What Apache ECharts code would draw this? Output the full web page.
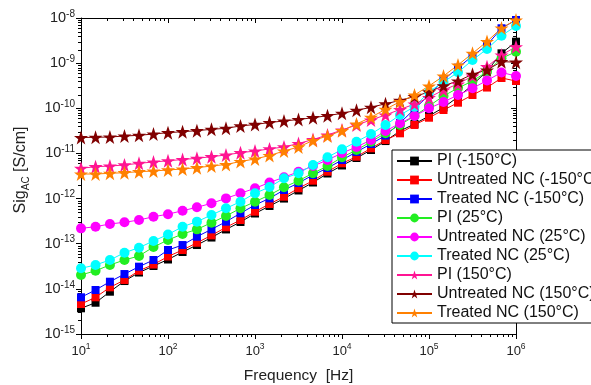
<!DOCTYPE html>
<html><head><meta charset="utf-8">
<script src="https://cdn.jsdelivr.net/npm/echarts@6/dist/echarts.min.js"></script>
<style>html,body{margin:0;padding:0;background:#fff}#c{width:591px;height:385px}</style>
</head><body><div id="c"></div><script>
// Frequency [Hz]
const freqs = [10, 14.7, 21.5, 31.6, 46.4, 68.1, 100, 147, 215, 316, 464, 681, 1000, 1468, 2154, 3162, 4642, 6813, 10000, 14678, 21544, 31623, 46416, 68129, 100000, 146780, 215440, 316230, 464160, 681290, 1000000];

const seriesNames = ["PI (-150°C)", "Untreated NC (-150°C)", "Treated NC (-150°C)", "PI (25°C)", "Untreated NC (25°C)", "Treated NC (25°C)", "PI (150°C)", "Untreated NC (150°C)", "Treated NC (150°C)"];

const piM150 = [3.71e-15, 4.93e-15, 8.65e-15, 1.49e-14, 2.30e-14, 3.21e-14, 4.47e-14, 6.55e-14, 9.35e-14, 1.37e-13, 2.07e-13, 3.03e-13, 4.67e-13, 6.84e-13, 1.00e-12, 1.51e-12, 2.27e-12, 3.59e-12, 5.41e-12, 7.92e-12, 1.19e-11, 1.88e-11, 3.14e-11, 4.49e-11, 6.75e-11, 1.04e-10, 1.78e-10, 3.28e-10, 6.70e-10, 1.65e-9, 2.99e-9];
const untreatedM150 = [4.61e-15, 6.50e-15, 1.08e-14, 1.57e-14, 2.52e-14, 3.46e-14, 5.21e-14, 7.26e-14, 1.05e-13, 1.53e-13, 2.31e-13, 3.35e-13, 5.12e-13, 7.59e-13, 1.10e-12, 1.69e-12, 2.49e-12, 3.94e-12, 6.04e-12, 8.47e-12, 1.30e-11, 1.98e-11, 2.79e-11, 4.27e-11, 6.18e-11, 9.16e-11, 1.33e-10, 1.97e-10, 2.88e-10, 4.69e-10, 4.02e-10];
const treatedM150 = [6.50e-15, 9.44e-15, 1.44e-14, 2.13e-14, 3.10e-14, 4.36e-14, 7.26e-14, 9.35e-14, 1.43e-13, 2.08e-13, 3.08e-13, 4.72e-13, 7.21e-13, 1.01e-12, 1.55e-12, 2.21e-12, 3.33e-12, 4.75e-12, 7.14e-12, 1.08e-11, 1.62e-11, 2.49e-11, 4.72e-11, 9.64e-11, 1.97e-10, 4.24e-10, 7.92e-10, 1.44e-9, 2.52e-9, 5.92e-9, 9.04e-9];
const pi25 = [2.03e-14, 2.52e-14, 3.38e-14, 4.36e-14, 5.35e-14, 8.45e-14, 1.21e-13, 1.64e-13, 2.08e-13, 2.92e-13, 4.11e-13, 6.08e-13, 8.53e-13, 1.20e-12, 1.78e-12, 2.49e-12, 3.63e-12, 5.26e-12, 8.20e-12, 1.19e-11, 1.82e-11, 2.79e-11, 4.27e-11, 6.75e-11, 1.12e-10, 1.87e-10, 2.81e-10, 4.02e-10, 6.46e-10, 1.28e-9, 1.79e-9];
const untreated25 = [2.19e-13, 2.38e-13, 2.74e-13, 2.98e-13, 3.35e-13, 3.96e-13, 4.51e-13, 5.38e-13, 6.41e-13, 7.85e-13, 1.01e-12, 1.31e-12, 1.69e-12, 2.27e-12, 2.96e-12, 3.94e-12, 5.26e-12, 7.14e-12, 1.02e-11, 1.39e-11, 1.98e-11, 3.14e-11, 4.65e-11, 6.75e-11, 1.00e-10, 1.38e-10, 1.97e-10, 2.77e-10, 4.13e-10, 6.21e-10, 5.19e-10];
const treated25 = [2.85e-14, 3.38e-14, 4.36e-14, 6.32e-14, 8.17e-14, 1.15e-13, 1.60e-13, 2.38e-13, 3.08e-13, 4.33e-13, 6.08e-13, 8.53e-13, 1.31e-12, 1.80e-12, 2.81e-12, 3.63e-12, 5.55e-12, 8.20e-12, 1.23e-11, 1.82e-11, 2.69e-11, 4.27e-11, 7.10e-11, 1.08e-10, 2.30e-10, 3.82e-10, 6.27e-10, 1.17e-9, 2.06e-9, 4.06e-9, 6.65e-9];
const pi150 = [4.69e-12, 5.08e-12, 5.26e-12, 5.55e-12, 6.04e-12, 6.46e-12, 6.87e-12, 7.33e-12, 7.80e-12, 8.47e-12, 9.23e-12, 1.04e-11, 1.13e-11, 1.26e-11, 1.39e-11, 1.66e-11, 2.03e-11, 2.56e-11, 3.30e-11, 4.27e-11, 5.50e-11, 7.10e-11, 9.40e-11, 1.24e-10, 1.73e-10, 2.54e-10, 3.45e-10, 5.19e-10, 8.34e-10, 1.51e-9, 2.31e-9];
const untreated150 = [2.25e-11, 2.28e-11, 2.31e-11, 2.43e-11, 2.52e-11, 2.69e-11, 2.88e-11, 3.03e-11, 3.19e-11, 3.42e-11, 3.60e-11, 4.06e-11, 4.38e-11, 4.84e-11, 5.23e-11, 5.64e-11, 6.18e-11, 6.85e-11, 7.74e-11, 9.02e-11, 1.05e-10, 1.26e-10, 1.49e-10, 1.82e-10, 2.30e-10, 3.16e-10, 4.02e-10, 5.66e-10, 7.05e-10, 1.08e-9, 1.05e-9];
const treated150 = [3.50e-12, 3.50e-12, 3.63e-12, 3.74e-12, 3.94e-12, 4.08e-12, 4.30e-12, 4.52e-12, 4.83e-12, 5.26e-12, 5.69e-12, 6.62e-12, 7.53e-12, 8.99e-12, 1.13e-11, 1.39e-11, 1.93e-11, 2.43e-11, 3.19e-11, 4.49e-11, 6.31e-11, 9.51e-11, 1.40e-10, 1.97e-10, 3.12e-10, 5.19e-10, 9.10e-10, 1.65e-9, 3.01e-9, 6.00e-9, 9.04e-9];

const xRange = [10, 1e6];
const yRange = [1e-15, 1e-8];
const xTitle = 'Frequency  [Hz]';

const allData = [piM150, untreatedM150, treatedM150, pi25, untreated25, treated25, pi150, untreated150, treated150];
const colors = ['#000000', '#ff0000', '#0000ff', '#22ee22', '#ff00ff', '#00ffff', '#ff1493', '#800000', '#ff8000'];
const star = 'path://M50,0 L61.8,35.1 L97.6,35.1 L68.8,56.7 L79.4,91 L50,70 L20.6,91 L31.2,56.7 L2.4,35.1 L38.2,35.1 Z';
const symbols = ['rect', 'rect', 'rect', 'circle', 'circle', 'circle', star, star, star];
const sizes = [8, 8, 8, 10, 10, 10, 14, 14, 14];

const FONT = 'Liberation Sans, Arial, sans-serif';
const chart = echarts.init(document.getElementById('c'), null, {renderer: 'canvas'});

function powLabel(v) {
  const e = Math.round(Math.log10(v));
  return '{a|10}{b|' + e + '}';
}
const richX = {
  a: {fontSize: 13, fontFamily: FONT, color: '#222', lineHeight: 18},
  b: {fontSize: 8.5, fontFamily: FONT, color: '#222', verticalAlign: 'top', lineHeight: 9}
};
const richY = {
  a: {fontSize: 14.5, fontFamily: FONT, color: '#222', lineHeight: 18},
  b: {fontSize: 10, fontFamily: FONT, color: '#222', verticalAlign: 'top', lineHeight: 10}
};

const series = seriesNames.map((n, i) => ({
  name: n,
  type: 'line',
  xAxisIndex: 0, yAxisIndex: 0,
  data: freqs.map((f, k) => [f, allData[i][k]]),
  symbol: symbols[i],
  symbolSize: sizes[i],
  showAllSymbol: true,
  lineStyle: {color: colors[i], width: 1},
  itemStyle: {color: colors[i]},
  emphasis: {disabled: true},
  animation: false,
  clip: true
}));

const option = {
  animation: false,
  backgroundColor: '#fff',
  grid: {left: 81, right: 75, top: 18, bottom: 51, containLabel: false, outerBoundsMode: 'none'},
  xAxis: [
    {type: 'log', logBase: 10, min: xRange[0], max: xRange[1], position: 'bottom',
     name: xTitle, nameLocation: 'middle', nameGap: 34,
     nameTextStyle: {fontSize: 15.5, fontFamily: FONT, color: '#222'},
     axisLine: {show: true, lineStyle: {color: '#000', width: 1}},
     axisTick: {show: true, inside: false, length: 5, lineStyle: {color: '#000'}},
     axisLabel: {show: true, margin: 8, formatter: powLabel, rich: richX},
     splitLine: {show: false}},
    {type: 'log', logBase: 10, min: xRange[0], max: xRange[1], position: 'top',
     axisLine: {show: true, onZero: false, lineStyle: {color: '#000', width: 1}},
     axisTick: {show: true, inside: true, length: 5, lineStyle: {color: '#000'}},
     axisLabel: {show: false}, splitLine: {show: false}}
  ],
  yAxis: [
    {type: 'log', logBase: 10, min: yRange[0], max: yRange[1], position: 'left',
     name: '{n|Sig}{s|AC}{n| [S/cm]}', nameLocation: 'middle', nameGap: 50, nameRotate: 90,
     nameTextStyle: {padding: [0, 0, 0, 12], rich: {
       n: {fontSize: 16, fontFamily: FONT, color: '#222', lineHeight: 20},
       s: {fontSize: 10, fontFamily: FONT, color: '#222', verticalAlign: 'bottom', lineHeight: 10}
     }},
     axisLine: {show: true, onZero: false, lineStyle: {color: '#000', width: 1}},
     axisTick: {show: true, inside: false, length: 5, lineStyle: {color: '#000'}},
     axisLabel: {show: true, margin: 6, formatter: powLabel, rich: richY},
     splitLine: {show: false}},
    {type: 'log', logBase: 10, min: yRange[0], max: yRange[1], position: 'right',
     axisLine: {show: true, onZero: false, lineStyle: {color: '#000', width: 1}},
     axisTick: {show: true, inside: true, length: 5, lineStyle: {color: '#000'}},
     axisLabel: {show: false}, splitLine: {show: false}}
  ],
  legend: {
    show: true, orient: 'vertical', left: 392, top: 150,
    data: seriesNames,
    itemWidth: 35, itemHeight: 11, itemGap: 3,
    padding: [3, 10, 2, 4],
    borderColor: '#000', borderWidth: 1, backgroundColor: '#fff',
    textStyle: {fontSize: 16, fontFamily: FONT, color: '#111', lineHeight: 16},
    selectedMode: false
  },
  series: series
};
chart.setOption(option);

// minor ticks at 2..9 of each decade, positioned through the axes' own scales
const g = [];
const yb = chart.convertToPixel({yAxisIndex: 0}, yRange[0]);
const yt = chart.convertToPixel({yAxisIndex: 0}, yRange[1]);
const xl = chart.convertToPixel({xAxisIndex: 0}, xRange[0]);
const xr = chart.convertToPixel({xAxisIndex: 0}, xRange[1]);
const ls = {stroke: '#000', lineWidth: 1};
for (let d = 1; d < 6; d++) {
  for (let m = 2; m <= 9; m++) {
    const x = Math.round(chart.convertToPixel({xAxisIndex: 0}, m * Math.pow(10, d))) + 0.5;
    g.push({type: 'line', shape: {x1: x, y1: yb, x2: x, y2: yb + 3}, style: ls, silent: true});
    g.push({type: 'line', shape: {x1: x, y1: yt, x2: x, y2: yt + 3}, style: ls, silent: true});
  }
}
for (let d = -15; d < -8; d++) {
  for (let m = 2; m <= 9; m++) {
    const y = Math.round(chart.convertToPixel({yAxisIndex: 0}, m * Math.pow(10, d))) + 0.5;
    g.push({type: 'line', shape: {x1: xl, y1: y, x2: xl - 3, y2: y}, style: ls, silent: true});
    g.push({type: 'line', shape: {x1: xr, y1: y, x2: xr - 3, y2: y}, style: ls, silent: true});
  }
}
chart.setOption({graphic: g});
</script></body></html>
